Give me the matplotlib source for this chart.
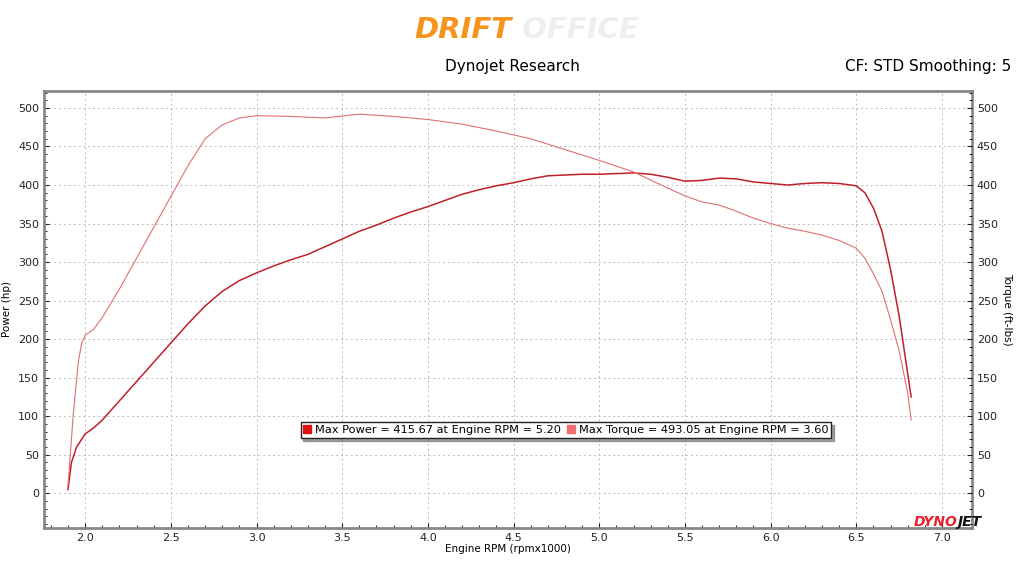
import matplotlib
matplotlib.use("Agg")
import matplotlib.pyplot as plt
from matplotlib.ticker import MultipleLocator
from matplotlib.lines import Line2D

rpm_p = [1.9,1.92,1.95,2.0,2.05,2.1,2.2,2.3,2.4,2.5,2.6,2.7,2.8,2.9,3.0,3.1,3.2,3.3,3.4,3.5,3.6,3.7,3.8,3.9,4.0,4.1,4.2,4.3,4.4,4.5,4.6,4.7,4.8,4.9,5.0,5.2,5.3,5.4,5.5,5.6,5.7,5.8,5.9,6.0,6.1,6.2,6.3,6.4,6.5,6.55,6.6,6.65,6.7,6.75,6.8,6.82]
power = [5,40,60,77,85,95,120,145,170,195,220,243,262,276,286,295,303,310,320,330,340,348,357,365,372,380,388,394,399,403,408,412,413,414,414,415.7,414,410,405,406,409,408,404,402,400,402,403,402,399,390,370,340,290,230,155,125]
rpm_t = [1.9,1.93,1.96,1.98,2.0,2.05,2.1,2.2,2.3,2.4,2.5,2.6,2.7,2.8,2.9,3.0,3.2,3.4,3.6,3.8,4.0,4.2,4.4,4.6,4.8,5.0,5.2,5.4,5.5,5.6,5.7,5.8,5.9,6.0,6.1,6.2,6.3,6.4,6.5,6.55,6.6,6.65,6.7,6.75,6.8,6.82]
torque = [10,100,170,195,205,213,228,265,305,345,385,425,460,478,487,490,489,487,492,489,485,479,470,460,446,432,417,396,386,378,374,366,357,350,344,340,335,328,318,305,285,262,225,185,130,95]
legend_labels = ['Max Power = 415.67 at Engine RPM = 5.20', 'Max Torque = 493.05 at Engine RPM = 3.60']

fig = plt.figure(figsize=(10.24,5.76), dpi=100)
ax = fig.add_axes([44/1024, 1-528/576, 928/1024, 437/576])
ax.plot(rpm_p, power, color='#c0202a', lw=1.1)
ax.plot(rpm_t, torque, color='#e07070', lw=0.8)
ax.set_xlim(1.76, 7.175)
ax.set_ylim(-45, 522)
ax.xaxis.set_major_locator(MultipleLocator(0.5))
ax.xaxis.set_minor_locator(MultipleLocator(0.1))
ax.yaxis.set_major_locator(MultipleLocator(50))
ax.yaxis.set_minor_locator(MultipleLocator(10))
ax.grid(True, which='major', color='#bbbbbb', ls=(0,(2,3)), lw=0.7)
ax.tick_params(labelsize=8, colors='#222222')
ax.tick_params(which='both', direction='in')
ax.set_xlabel('Engine RPM (rpmx1000)', fontsize=7.5, labelpad=1)
ax.set_ylabel('Power (hp)', fontsize=7.5)
ax2 = ax.twinx()
ax2.set_ylim(ax.get_ylim())
ax2.yaxis.set_major_locator(MultipleLocator(50))
ax2.yaxis.set_minor_locator(MultipleLocator(10))
ax2.tick_params(labelsize=8, colors='#222222')
ax2.tick_params(which='both', direction='in')
ax2.set_ylabel('Torque (ft-lbs)', fontsize=7.5, rotation=270, labelpad=10)
for s in ax.spines.values():
    s.set_color('#888888'); s.set_linewidth(2)
for s in ax2.spines.values():
    s.set_visible(False)

handles = [Line2D([], [], ls='none', marker='s', ms=6, color='#dd1111'),
           Line2D([], [], ls='none', marker='s', ms=6, color='#f07070')]
leg = ax.legend(handles, legend_labels, ncol=2, loc='center',
                bbox_to_anchor=((566-44)/928, (528-430)/437),
                fontsize=8.2, frameon=True, fancybox=False, shadow=True,
                handlelength=0.6, handletextpad=0.4, columnspacing=0.6,
                borderpad=0.25, borderaxespad=0)
leg.get_frame().set_edgecolor('#222222')
leg.get_frame().set_linewidth(1)

fig.text(0.5, 0.948, 'DRIFT', ha='right', va='center', fontsize=21, color='#f7941d', fontweight='bold', style='italic')
fig.text(0.5, 0.948, ' OFFICE', ha='left', va='center', fontsize=21, color='#eeeeee', fontweight='bold', style='italic')
fig.text(0.5, 0.885, 'Dynojet Research', ha='center', va='center', fontsize=11)
fig.text(0.988, 0.885, 'CF: STD Smoothing: 5', ha='right', va='center', fontsize=11)

fig.text(0.935, 1-522/576, 'DYNO', ha='right', va='center', fontsize=10, color='#e8202a', fontweight='bold', style='italic')
fig.text(0.935, 1-522/576, 'JET', ha='left', va='center', fontsize=10, color='#111111', fontweight='bold', style='italic')
fig.savefig('out.png', dpi=100)
